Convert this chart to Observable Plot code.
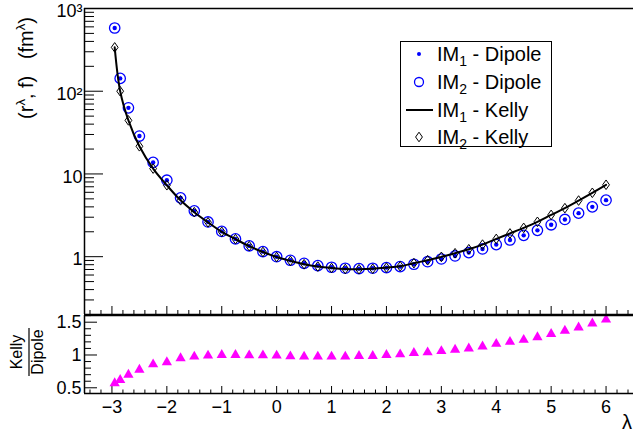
<!DOCTYPE html>
<html><head><meta charset="utf-8">
<script src="https://cdn.jsdelivr.net/npm/d3@7"></script>
<script src="https://cdn.jsdelivr.net/npm/@observablehq/plot@0.6"></script>
<style>
body{margin:0;background:#fff;}
#wrap{position:relative;width:633px;height:436px;font-family:"Liberation Sans",Arial,sans-serif;background:#fff;}
#upper,#lower{position:absolute;left:0;}
#upper{top:0}
#lower{top:300px}
svg{overflow:visible}
</style></head><body><div id="wrap"><div id="lower"></div><div id="upper"></div></div>
<script>
// ---- data ----
const lambda = [-2.95,-2.85,-2.7,-2.5,-2.25,-2,-1.75,-1.5,-1.25,-1,-0.75,-0.5,-0.25,0,0.25,0.5,0.75,1,1.25,1.5,1.75,2,2.25,2.5,2.75,3,3.25,3.5,3.75,4,4.25,4.5,4.75,5,5.25,5.5,5.75,6];
const dipole = [581,143,63,28.7,13.8,8.4,5.14,3.58,2.63,2.02,1.64,1.35,1.15,1.0,0.905,0.832,0.779,0.745,0.725,0.717,0.725,0.737,0.758,0.81,0.87,0.938,1.02,1.12,1.24,1.40,1.59,1.81,2.08,2.43,2.82,3.36,4.0,4.82];
const kelly = [339,100,44.4,21.6,11.6,7.3,4.8,3.45,2.6,2.0,1.63,1.34,1.14,0.99,0.89,0.81,0.76,0.73,0.71,0.705,0.715,0.737,0.765,0.835,0.905,0.995,1.10,1.23,1.40,1.64,1.91,2.23,2.64,3.2,3.86,4.77,5.92,7.4];
const ratio = [0.57,0.62,0.70,0.776,0.857,0.89,0.95,0.975,0.99,1.0,1.0,0.995,0.995,0.99,0.98,0.975,0.975,0.975,0.975,0.985,0.985,1.0,1.01,1.03,1.04,1.06,1.08,1.10,1.13,1.17,1.20,1.23,1.27,1.32,1.37,1.42,1.48,1.54];

const xMajor = [-3,-2,-1,0,1,2,3,4,5,6];
const yMajor = [1,10,100,1000];
const yMajorLabels = ["1","10","10²","10³"];
const rMajor = [0.5,1,1.5];
const rMajorLabels = ["0.5","1","1.5"];
const legendLabels = [["IM","1"," - Dipole"],["IM","2"," - Dipole"],["IM","1"," - Kelly"],["IM","2"," - Kelly"]];

const xDomain = [-3.5, 6.5];
const xMinor = d3.range(-3.4, 6.45, 0.2).filter(v => Math.abs(v - Math.round(v)) > 1e-6);
const yMinor = [0.1,1,10,100].flatMap(d => [2,3,4,5,6,7,8,9].map(k => +(k*d).toPrecision(3))).filter(v => v > 0.2 && v < 1000);
const rMinor = [0.6,0.7,0.8,0.9,1.1,1.2,1.3,1.4,1.6];

const rows = lambda.map((l,i) => ({lambda:l, dipole:dipole[i], kelly:kelly[i], ratio:ratio[i]}));

const FONT = '"Liberation Sans", Arial, Helvetica, sans-serif';
const BLUE = "#0000ff", MAG = "#ff00ff";
const diamondOpen = {draw(ctx, size){const r=Math.sqrt(size/Math.PI);const h=r*1.2,w=r*0.85;ctx.moveTo(0,-h);ctx.lineTo(w,0);ctx.lineTo(0,h);ctx.lineTo(-w,0);ctx.closePath();}};

const W = 633, ML = 84, MR = 0;
const PW = W - ML - MR;

// ---- upper pad ----
const TH = 316, TMT = 8, TMB = 2, TPH = TH - TMT - TMB;
const upperPlot = Plot.plot({
  width: W, height: TH, marginLeft: ML, marginRight: MR, marginTop: TMT, marginBottom: TMB,
  style: {fontFamily: FONT, fontSize: "18px", background: "transparent", color: "black"},
  x: {domain: xDomain, axis: null},
  y: {type: "log", domain: [0.2, 1000], axis: null},
  marks: [
    Plot.tickY(yMajor, {y: d => d, insetRight: PW - 19, stroke: "black", strokeWidth: 1}),
    Plot.tickY(yMinor, {y: d => d, insetRight: PW - 10, stroke: "black", strokeWidth: 1}),
    Plot.tickX(xMajor, {x: d => d, insetTop: TPH - 8, stroke: "black", strokeWidth: 1}),
    Plot.tickX(xMinor, {x: d => d, insetTop: TPH - 4, stroke: "black", strokeWidth: 1}),
    Plot.axisY(yMajor, {tickSize: 0, tickPadding: 2, dy: 3, tickFormat: d => yMajorLabels[yMajor.indexOf(d)], label: null, fontSize: 18}),
    Plot.dot(rows, {x: "lambda", y: "dipole", r: 5.2, stroke: BLUE, strokeWidth: 1.3, fill: "none"}),
    Plot.dot(rows, {x: "lambda", y: "dipole", r: 2.2, fill: BLUE, stroke: "none"}),
    Plot.line(rows, {x: "lambda", y: "kelly", curve: "catmull-rom", stroke: "black", strokeWidth: 2}),
    Plot.dot(rows, {x: "lambda", y: "kelly", r: 4, symbol: diamondOpen, stroke: "black", strokeWidth: 1, fill: "none"}),
    Plot.ruleX([xDomain[0]], {stroke: "black", strokeWidth: 1.5}),
    Plot.ruleY([1000], {stroke: "black", strokeWidth: 1.6}),
    Plot.ruleY([0.2], {stroke: "black", strokeWidth: 1.6})
  ]
});
document.getElementById("upper").appendChild(upperPlot);

// ---- lower pad ----
const BH = 136, BMT = 15, BMB = 43, BPH = BH - BMT - BMB;
const lowerPlot = Plot.plot({
  width: W, height: BH, marginLeft: ML, marginRight: MR, marginTop: BMT, marginBottom: BMB,
  style: {fontFamily: FONT, fontSize: "18px", background: "transparent", color: "black"},
  x: {domain: xDomain, axis: null},
  y: {domain: [0.413, 1.602], axis: null},
  marks: [
    Plot.tickY(rMajor, {y: d => d, insetRight: PW - 13, stroke: "black"}),
    Plot.tickY(rMinor, {y: d => d, insetRight: PW - 7, stroke: "black"}),
    Plot.tickX(xMajor, {x: d => d, insetTop: BPH - 7, stroke: "black"}),
    Plot.tickX(xMinor, {x: d => d, insetTop: BPH - 3.5, stroke: "black"}),
    Plot.axisY(rMajor, {tickSize: 0, tickPadding: 3, tickFormat: d => rMajorLabels[rMajor.indexOf(d)], label: null, fontSize: 18}),
    Plot.axisX(xMajor, {tickSize: 0, tickPadding: 7, label: null, fontSize: 18}),
    Plot.dot(rows, {x: "lambda", y: "ratio", symbol: "triangle", r: 3.8, fill: MAG, stroke: "none"}),
    Plot.ruleX([xDomain[0]], {stroke: "black", strokeWidth: 1.5}),
    Plot.ruleY([1.602], {stroke: "black", strokeWidth: 1.6}),
    Plot.ruleY([0.413], {stroke: "black", strokeWidth: 1.6})
  ]
});
document.getElementById("lower").appendChild(lowerPlot);

// ---- titles (text) ----
const ts = d3.select(upperPlot);
const yt = ts.append("text")
  .attr("transform", "translate(33,68) rotate(-90)")
  .attr("text-anchor", "middle").attr("font-family", FONT).attr("font-size", 20)
  .style("white-space", "pre").attr("fill", "black");
yt.append("tspan").text("(r");
yt.append("tspan").attr("dy", -8).attr("font-size", 13).text("λ");
yt.append("tspan").attr("dy", 8).text(", f)   (fm");
yt.append("tspan").attr("dy", -8).attr("font-size", 13).text("λ");
yt.append("tspan").attr("dy", 8).text(")");

// legend
const lg = ts.append("g").attr("font-family", FONT).attr("font-size", 20).attr("text-anchor", "start");
lg.append("rect").attr("x", 400.5).attr("y", 41.5).attr("width", 151).attr("height", 105)
  .attr("fill", "white").attr("stroke", "black").attr("stroke-width", 1);
const base = [61, 89, 117, 144];
const mx = 419;
legendLabels.forEach((parts, i) => {
  const t = lg.append("text").attr("x", 437).attr("y", base[i]).attr("fill", "black").attr("text-anchor", "start").style("white-space", "pre");
  t.append("tspan").text(parts[0]);
  t.append("tspan").attr("dy", 5).attr("font-size", 14).text(parts[1]);
  t.append("tspan").attr("dy", -5).text(parts[2]);
});
const cy = base.map(b => b - 7);
lg.append("circle").attr("cx", mx).attr("cy", cy[0]).attr("r", 2).attr("fill", BLUE);
lg.append("circle").attr("cx", mx).attr("cy", cy[1]).attr("r", 4.5).attr("fill", "none").attr("stroke", BLUE).attr("stroke-width", 1.3);
lg.append("line").attr("x1", 406).attr("x2", 433).attr("y1", cy[2]).attr("y2", cy[2]).attr("stroke", "black").attr("stroke-width", 2);
lg.append("path").attr("transform", `translate(${mx},${cy[3]})`).attr("d", d3.symbol(diamondOpen, 16*Math.PI)()).attr("fill", "none").attr("stroke", "black");

// lower titles
const bs = d3.select(lowerPlot);
const fr = bs.append("g").attr("transform", "translate(0,52) rotate(-90)").attr("font-family", FONT).attr("font-size", 16).attr("fill", "black");
fr.append("text").attr("x", 0).attr("y", 22).attr("text-anchor", "middle").text("Kelly");
fr.append("line").attr("x1", -24).attr("x2", 24).attr("y1", 29).attr("y2", 29).attr("stroke", "black").attr("stroke-width", 1.2);
fr.append("text").attr("x", 0).attr("y", 43).attr("text-anchor", "middle").text("Dipole");
bs.append("text").attr("x", 632).attr("y", 129).attr("text-anchor", "end").attr("font-family", FONT).attr("font-size", 20).attr("fill", "black").text("λ");
</script></body></html>
